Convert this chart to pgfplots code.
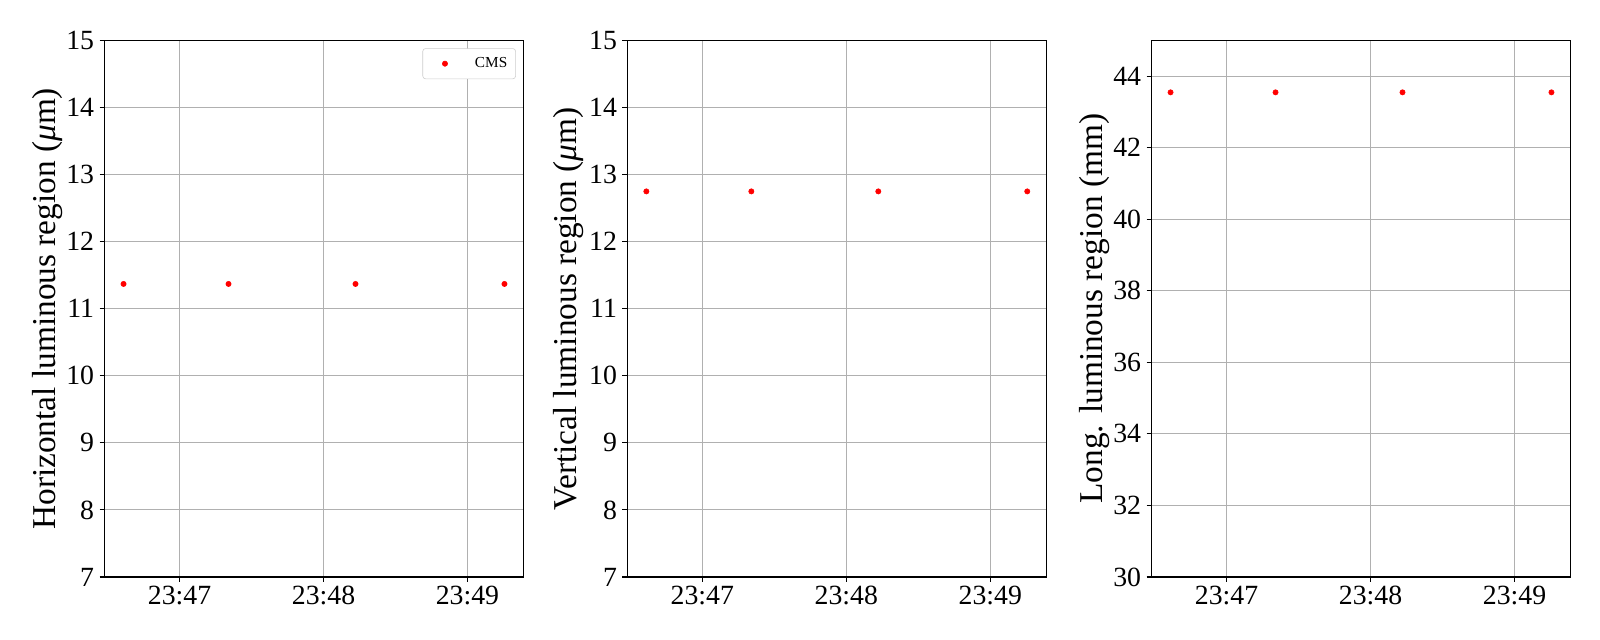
\documentclass[border=0pt]{standalone}
\usepackage{fontspec}
\setmainfont{Liberation Serif}
\usepackage{pgfplots}
\pgfplotsset{compat=1.18}

\pgfplotsset{
  lumi/.style={
    scale only axis,
    width=301.68pt, height=386.28pt,
    anchor=south west,
    xmin=28.73, xmax=203.34,
    xtick={60,120,180},
    xticklabels={23:47,23:48,23:49},
    grid=major,
    major grid style={color=black!31, line width=0.8pt},
    axis line style={line width=0.8pt},
    tick style={black, line width=0.8pt},
    major tick length=3.5pt,
    tick align=outside,
    tick pos=left,
    /pgf/number format/assume math mode=true,
    yticklabel={\pgfmathprintnumber{\tick}},
    ticklabel style={font=\fontsize{20}{24}\selectfont},
    yticklabel style={inner sep=0pt, anchor=east, xshift=-3.8pt},
    xticklabel style={inner sep=0pt, anchor=north, yshift=-2.8pt},
    ylabel style={at={(axis description cs:-0.099,0.5)}, anchor=south, inner sep=0pt, font=\fontsize{24}{28}\selectfont},
    legend style={at={(1,1)}, anchor=north east, xshift=-5.5pt, yshift=-5.6pt,
      draw=black!20, rounded corners=2pt, fill=white,
      font=\fontsize{11}{13}\selectfont,
      inner xsep=6pt, inner ysep=6.5pt, nodes={inner sep=0pt}, column sep=11.6pt},
    legend image code/.code={\path[draw=none,fill=none] (0pt,-2pt) rectangle (20pt,2pt); \draw[#1] plot coordinates {(10pt,0pt)};},
  },
  cms/.style={only marks, mark=*, mark size=1.9pt, color=red, mark options={draw=red, fill=red}},
}

\begin{document}
\begin{tikzpicture}
\path (0,0) rectangle (1152pt,460.8pt);

\begin{axis}[lumi, at={(75.24pt,45.36pt)},
  ymin=7, ymax=15, ytick={7,8,...,15},
  ylabel={Horizontal luminous region (\textit{μ}m)}]
\addplot[cms] coordinates {(36.67,11.37) (80.42,11.37) (133.33,11.37) (195.40,11.37)};
\addlegendentry{CMS}
\end{axis}

\begin{axis}[lumi, at={(451.66pt,45.36pt)},
  ymin=7, ymax=15, ytick={7,8,...,15},
  ylabel style={at={(axis description cs:-0.1025,0.5)}},
  ylabel={Vertical luminous region (\textit{μ}m)}]
\addplot[cms] coordinates {(36.67,12.75) (80.42,12.75) (133.33,12.75) (195.40,12.75)};
\end{axis}

\begin{axis}[lumi, at={(829.08pt,45.36pt)},
  ymin=30, ymax=45, ytick={30,32,...,44},
  ylabel style={at={(axis description cs:-0.0995,0.5)}},
  ylabel={Long. luminous region (mm)}]
\addplot[cms] coordinates {(36.67,43.55) (80.42,43.55) (133.33,43.55) (195.40,43.55)};
\end{axis}
\end{tikzpicture}
\end{document}
